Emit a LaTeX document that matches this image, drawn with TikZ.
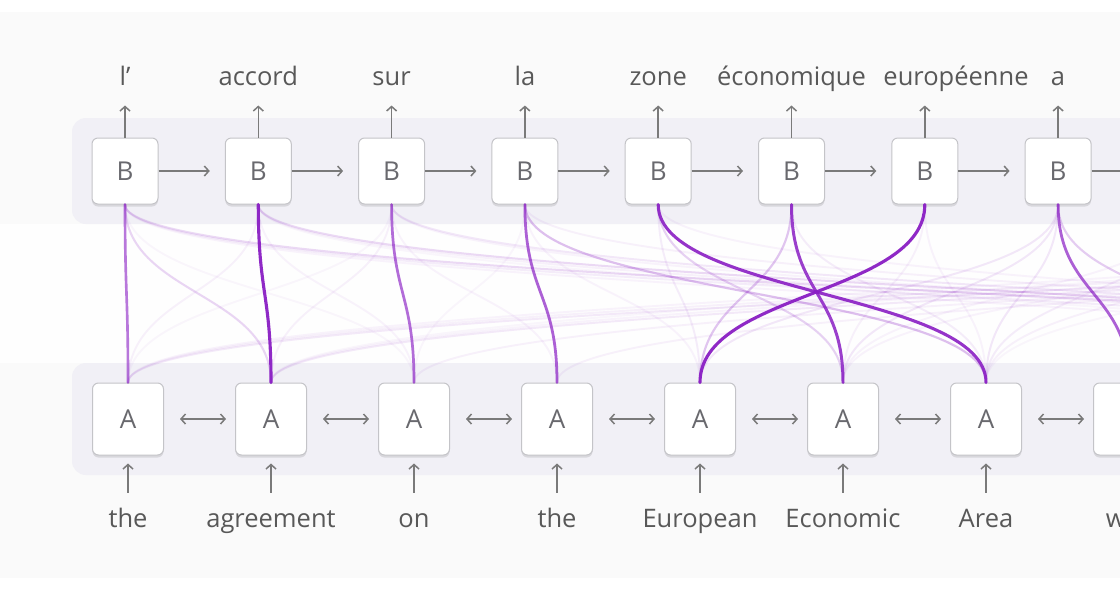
\documentclass[tikz,border=0pt]{standalone}
\usepackage{fontspec}
\setmainfont{Open Sans}
\usetikzlibrary{arrows.meta,shadows}

\definecolor{pagebg}{RGB}{250,250,250}
\definecolor{stripbg}{RGB}{254,254,254}
\definecolor{bandbg}{RGB}{241,240,246}
\definecolor{boxline}{RGB}{196,196,200}
\definecolor{wordgray}{RGB}{88,88,88}
\definecolor{lettergray}{RGB}{105,105,110}
\definecolor{arrowgray}{RGB}{122,122,122}
\definecolor{attn}{RGB}{138,30,196}

\tikzset{
  cellbox/.style={draw=boxline, line width=1pt, fill=white, rounded corners=6pt,
    inner sep=0pt, text=lettergray, font=\fontsize{26}{30}\selectfont,
    drop shadow={shadow xshift=0pt, shadow yshift=-2.5pt, opacity=0.10, fill=black}},
  bcell/.style={cellbox, minimum width=66pt, minimum height=66pt},
  acell/.style={cellbox, minimum width=71pt, minimum height=72pt},
  bslot/.style={inner sep=0pt, minimum width=66pt, minimum height=66pt},
  aslot/.style={inner sep=0pt, minimum width=71pt, minimum height=72pt},
  word/.style={text=wordgray, font=\fontsize{25.5}{30}\selectfont, anchor=base, inner sep=0pt},
  arr/.style={draw=arrowgray, line width=1.5pt, -{Straight Barb[length=4.5pt,width=10pt]}},
  darr/.style={draw=arrowgray, line width=1.5pt,
    {Straight Barb[length=4.5pt,width=10pt]}-{Straight Barb[length=4.5pt,width=10pt]}},
  att/.style={draw=attn, line cap=round}
}

\begin{document}
\begin{tikzpicture}[x=1pt,y=-1pt]
\useasboundingbox (0,0) rectangle (1120,590);
\clip (0,0) rectangle (1120,590);

% page and bands
\fill[white] (0,0) rectangle (1120,590);
\fill[pagebg] (0,12) rectangle (1120,578);
\fill[stripbg] (0,224) rectangle (1120,363);
\fill[bandbg, rounded corners=14pt] (72,118) rectangle (1200,224);
\fill[bandbg, rounded corners=14pt] (72,363) rectangle (1200,475);

% decoder cells (B) and encoder cells (A); later steps continue past the edge
\foreach \j in {1,...,8}
  \node[bcell] (B\j) at ({125+133.3*(\j-1)},171) {B};
\foreach \j in {9,...,14}
  \node[bslot] (B\j) at ({125+133.3*(\j-1)},171) {};
\foreach \i in {1,...,7}
  \node[acell] (A\i) at ({128+143*(\i-1)},419) {A};
\node[acell] (A8) at (1129,419) {};
\foreach \i in {9,...,13}
  \node[aslot] (A\i) at ({128+143*(\i-1)},419) {};

% output words
\foreach \w [count=\j] in {l’,accord,sur,la,zone,économique}
  \node[word] (out\j) at ({125+133.3*(\j-1)},85) {\w};
\node[word] (out7) at (956,85) {européenne};
\node[word] (out8) at (1058,85) {a};
% input words
\foreach \w [count=\i] in {the,agreement,on,the,European,Economic,Area,was}
  \node[word] (in\i) at ({128+143*(\i-1)},527) {\w};

% recurrent connections
\foreach \j [evaluate=\j as \k using int(\j+1)] in {1,...,8}
  \draw[arr] (B\j.east) -- ([xshift=-15pt]B\k.west);
\foreach \i [evaluate=\i as \k using int(\i+1)] in {1,...,8}
  \draw[darr] ([xshift=16pt]A\i.east) -- ([xshift=-9pt]A\k.west);

% inputs and outputs
\foreach \j in {1,...,8}
  \draw[arr] (B\j.north) -- ++(0,-32);
\foreach \i in {1,...,8}
  \draw[arr] ([yshift=-37pt]A\i.south) -- ([yshift=-8pt]A\i.south);

% attention weights: decoder step / encoder step / strength
\foreach \j/\i/\w in {
  1/3/0.04, 1/11/0.05, 1/12/0.08, 1/13/0.16, 1/2/0.18,
  2/1/0.06, 2/3/0.05, 2/12/0.06, 2/13/0.16, 2/11/0.04,
  3/1/0.04, 3/2/0.06, 3/4/0.05, 3/12/0.05, 3/13/0.10,
  4/3/0.04, 4/5/0.05, 4/13/0.06, 4/7/0.28,
  5/5/0.08, 5/13/0.05, 5/6/0.20,
  6/7/0.08, 6/5/0.25,
  7/6/0.06, 7/7/0.05,
  8/5/0.10, 8/6/0.10, 8/7/0.10, 8/9/0.22,
  9/7/0.08, 9/6/0.05, 10/7/0.06, 10/6/0.05, 11/7/0.04,
  12/1/0.05, 12/2/0.04, 13/1/0.06, 13/2/0.05,
  14/1/0.09, 14/2/0.09, 14/3/0.06, 14/4/0.06,
  1/1/0.60, 3/3/0.65, 4/4/0.70, 8/8/0.70, 9/8/0.60,
  10/9/0.90, 11/10/0.80, 12/11/0.90, 13/12/0.90, 14/13/0.90,
  6/6/0.85, 5/7/0.90, 7/5/0.95, 2/2/0.95}
{
  \pgfmathsetmacro\lw{1.8+1.4*\w}
  \draw[att, draw opacity=\w, line width=\lw pt]
    (B\j.south) .. controls +(0,90) and +(0,-90) .. (A\i.north);
}
\end{tikzpicture}
\end{document}
